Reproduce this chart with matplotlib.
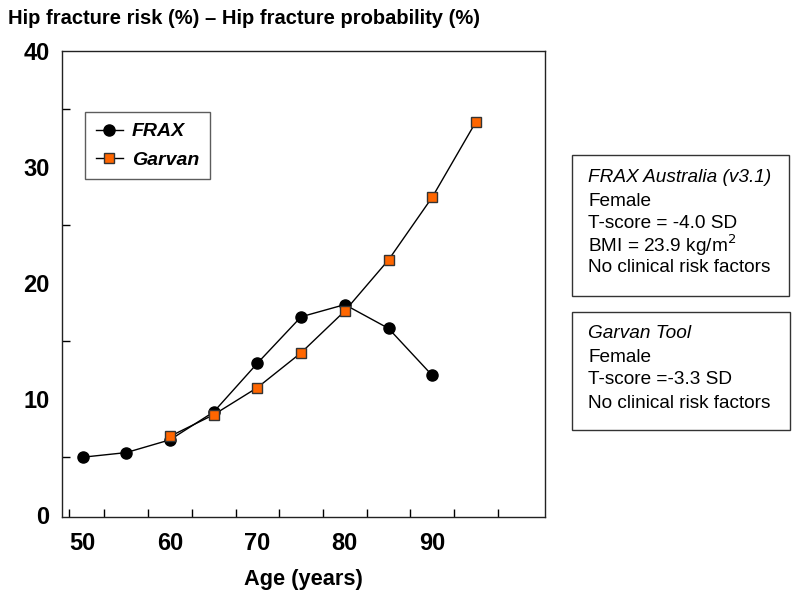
import matplotlib
matplotlib.use("Agg")
import matplotlib.pyplot as plt
from matplotlib.patches import Rectangle

plt.rcParams['font.family'] = ['Liberation Sans', 'DejaVu Sans']

frax_age = [50, 55, 60, 65, 70, 75, 80, 85, 90]
frax_val = [5.0, 5.4, 6.5, 8.9, 13.1, 17.1, 18.15, 16.1, 12.05]
garvan_age = [60, 65, 70, 75, 80, 85, 90, 95]
garvan_val = [6.8, 8.66, 11.0, 14.0, 17.6, 22.0, 27.4, 33.9]

x_labels = [50, 60, 70, 80, 90]
y_labels = [0, 10, 20, 30, 40]

title = "Hip fracture risk (%) \u2013 Hip fracture probability (%)"
xlabel = "Age (years)"
box1 = ["FRAX Australia (v3.1)", "Female", "T-score = -4.0 SD",
        "BMI = 23.9 kg/m$^2$", "No clinical risk factors"]
box2 = ["Garvan Tool", "Female", "T-score =-3.3 SD", "No clinical risk factors"]

W, H = 800, 597
fig = plt.figure(figsize=(8, 5.97), dpi=100)
ax = fig.add_axes([62 / W, 1 - 517 / H, (545 - 62) / W, (517 - 51) / H])

ax.plot(frax_age, frax_val, color='black', lw=1.0, marker='o', ms=8,
        mfc='black', mec='black', label='FRAX', zorder=3)
ax.plot(garvan_age, garvan_val, color='black', lw=1.0, marker='s', ms=7.5,
        mfc='#FF6600', mec='#333333', mew=1.0, label='Garvan', zorder=4)

ax.set_xlim(47.65, 102.9)
ax.set_ylim(-0.15, 40)

ax.set_xticks(x_labels)
ax.set_xticklabels([str(v) for v in x_labels])
ax.tick_params(axis='x', which='major', length=0, pad=11)
ax.set_xticks([48.5, 52.5, 57.5, 62.5, 67.5, 72.5, 77.5, 82.5, 87.5, 92.5, 97.5], minor=True)
ax.tick_params(axis='x', which='minor', direction='in', length=6, width=1)

ax.set_yticks(y_labels)
ax.set_yticklabels([str(v) for v in y_labels])
ax.set_yticks([5, 10, 15, 20, 25, 30, 35], minor=True)
ax.tick_params(axis='y', which='minor', direction='in', length=6, width=1)
ax.tick_params(axis='y', which='major', length=0, pad=9)

for lab in ax.get_xticklabels() + ax.get_yticklabels():
    lab.set_fontsize(17)
    lab.set_fontweight('bold')

for s in ax.spines.values():
    s.set_linewidth(1.0)
    s.set_color('#222222')

ax.set_xlabel(xlabel, fontsize=15.7, fontweight='bold', labelpad=10)

fig.text(8 / W, 1 - 18 / H, title, fontsize=14.5, fontweight='bold', va='center', ha='left')

leg = ax.legend(loc='upper left', bbox_to_anchor=((85 - 62) / (545 - 62), (517 - 112) / (517 - 51)),
                frameon=True, fancybox=False, edgecolor='#333333', handlelength=1.4,
                handletextpad=0.45, borderpad=0.55, labelspacing=0.55, borderaxespad=0,
                prop={'size': 14, 'weight': 'bold', 'style': 'italic'})
leg.get_frame().set_linewidth(1.0)

def draw_box(x0, y0, x1, y1, lines, ys):
    fig.patches.append(Rectangle((x0 / W, 1 - y1 / H), (x1 - x0) / W, (y1 - y0) / H,
                                 transform=fig.transFigure, fill=False,
                                 edgecolor='#333333', lw=1.0))
    for i, (t, y) in enumerate(zip(lines, ys)):
        fig.text(588 / W, 1 - y / H, t, fontsize=13.7, va='center', ha='left',
                 style='italic' if i == 0 else 'normal')

draw_box(572, 155, 789, 296, box1, [177, 201.5, 223.5, 245.5, 268])
draw_box(572, 312, 790, 430, box2, [333, 357, 380, 403])

fig.savefig('out.png', dpi=100)
